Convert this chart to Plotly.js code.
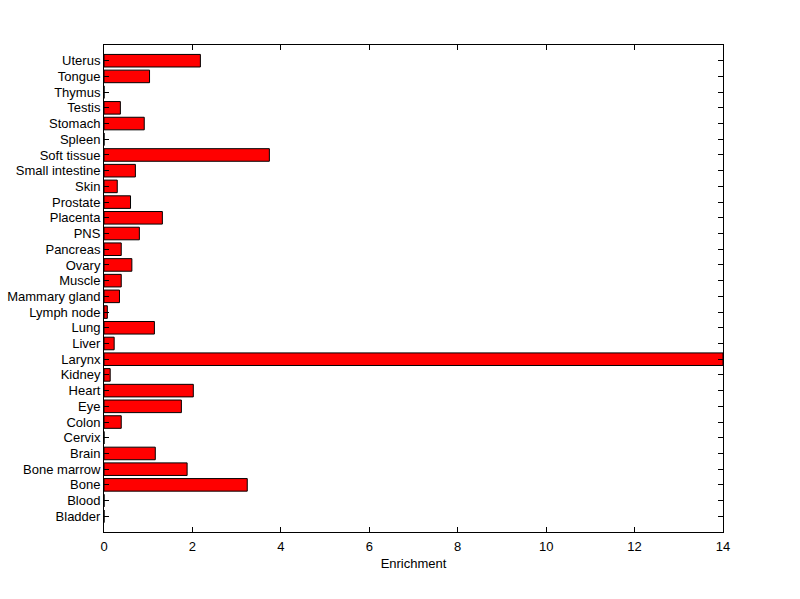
<!DOCTYPE html>
<html>
<head>
<meta charset="utf-8">
<script src="https://cdn.plot.ly/plotly-3.0.1.min.js"></script>
<style>html,body{margin:0;padding:0;background:#fff;}#chart{width:800px;height:599px;}</style>
</head>
<body>
<div id="chart"></div>
<script>
var tissues = ["Bladder","Blood","Bone","Bone marrow","Brain","Cervix","Colon","Eye","Heart","Kidney","Larynx","Liver","Lung","Lymph node","Mammary gland","Muscle","Ovary","Pancreas","PNS","Placenta","Prostate","Skin","Small intestine","Soft tissue","Spleen","Stomach","Testis","Thymus","Tongue","Uterus"];
var enrichment = [0,0,3.24,1.88,1.16,0,0.39,1.75,2.02,0.14,14,0.23,1.14,0.075,0.35,0.39,0.63,0.39,0.80,1.32,0.60,0.30,0.71,3.74,0,0.91,0.37,0,1.03,2.18];
var xTicks = [0,2,4,6,8,10,12,14];

var trace = {
  type: 'bar',
  orientation: 'h',
  y: tissues,
  x: enrichment,
  width: 0.8,
  marker: {color: '#ff0000', line: {color: '#000000', width: 1}},
  hoverinfo: 'x+y'
};

var layout = {
  width: 800, height: 599,
  margin: {l: 104, r: 77, t: 45, b: 67},
  paper_bgcolor: '#ffffff',
  plot_bgcolor: '#ffffff',
  showlegend: false,
  font: {family: 'Liberation Sans, Arial, sans-serif', size: 13, color: '#000'},
  xaxis: {
    range: [0, 14],
    tickmode: 'array',
    tickvals: xTicks,
    ticktext: xTicks.map(String),
    ticks: 'inside', ticklen: 5, tickcolor: '#000', tickwidth: 1,
    showline: true, linecolor: '#000', linewidth: 1, mirror: 'ticks',
    showgrid: false, zeroline: false,
    title: {text: 'Enrichment', font: {size: 13}, standoff: 6},
    tickfont: {size: 13},
    ticklabelstandoff: 2,
    automargin: false
  },
  yaxis: {
    type: 'category',
    categoryorder: 'array', categoryarray: tissues,
    tickmode: 'array', tickvals: tissues, ticktext: tissues,
    range: [-1, 30],
    ticks: 'inside', ticklen: 5, tickcolor: '#000', tickwidth: 1,
    showline: true, linecolor: '#000', linewidth: 1, mirror: 'ticks',
    showgrid: false, zeroline: false,
    tickfont: {size: 13},
    automargin: false
  },
  bargap: 0.2
};

Plotly.newPlot('chart', [trace], layout, {displayModeBar: false, staticPlot: true});
</script>
</body>
</html>
